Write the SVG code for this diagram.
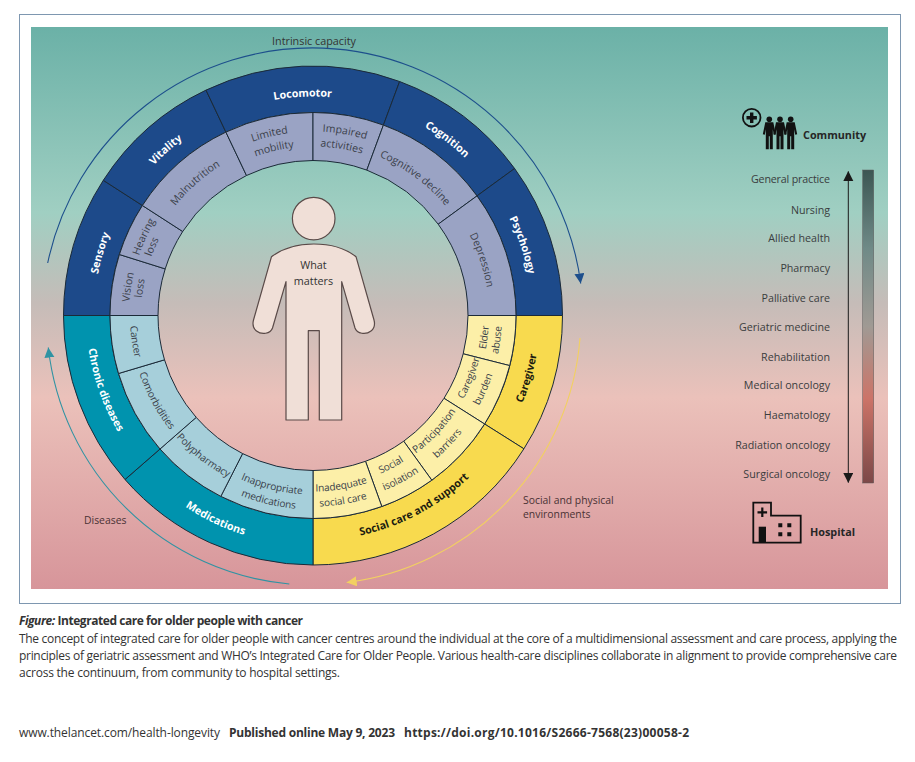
<svg xmlns="http://www.w3.org/2000/svg" xmlns:xlink="http://www.w3.org/1999/xlink" width="915" height="762" viewBox="0 0 915 762">
<style>
text{font-family:"Open Sans","Noto Sans","Liberation Sans",sans-serif;font-size:10.8px;fill:#333}
.seg{stroke:#1b2a38;stroke-width:1;stroke-linejoin:round}
.blue{fill:#1d4a8a}.lav{fill:#9aa3c4}.teal{fill:#0093ae}.ltb{fill:#a6cfda}.yel{fill:#f8da4e}.lty{fill:#fcefa8}
.o{font-size:10.7px;font-weight:700;fill:#fff;text-anchor:middle}
.od{font-size:10.7px;font-weight:700;fill:#1c1c10;text-anchor:middle}
.i{font-size:10.5px;fill:#3a3f4a;text-anchor:middle}
.n{font-size:10.1px;fill:#3a3f4a;text-anchor:middle;letter-spacing:-.1px}
.d{font-size:10.7px;text-anchor:end;fill:#3a3d3e}
.b{font-weight:700;fill:#262626}
.c{font-size:12px;fill:#333}
.env{font-size:10.4px;fill:#4a3235}
.arc{fill:none;stroke-width:1.1}
</style>
<defs>
<linearGradient id="bg" x1="0" y1="0" x2="0" y2="1">
<stop offset="0" stop-color="#6bb1a7"/><stop offset=".33" stop-color="#a0cfc2"/><stop offset=".49" stop-color="#c5bcb8"/><stop offset=".66" stop-color="#ebc1ba"/><stop offset="1" stop-color="#d7959a"/>
</linearGradient>
<linearGradient id="bar" x1="0" y1="0" x2="0" y2="1">
<stop offset="0" stop-color="#3c5653"/><stop offset=".25" stop-color="#6f8a87"/><stop offset=".5" stop-color="#a09a94"/><stop offset=".73" stop-color="#cc7468"/><stop offset="1" stop-color="#7c4848"/>
</linearGradient>
<marker id="hb" markerUnits="userSpaceOnUse" markerWidth="12" markerHeight="12" refX="10" refY="5" orient="auto"><path d="M0,0L10,5L0,10Z" fill="#1d4f8c"/></marker>
<marker id="ht" markerUnits="userSpaceOnUse" markerWidth="12" markerHeight="12" refX="10" refY="5" orient="auto"><path d="M0,0L10,5L0,10Z" fill="#2f93a3"/></marker>
<marker id="hy" markerUnits="userSpaceOnUse" markerWidth="12" markerHeight="12" refX="10" refY="5" orient="auto"><path d="M0,0L10,5L0,10Z" fill="#f2d060"/></marker>
<marker id="hk" markerUnits="userSpaceOnUse" markerWidth="12" markerHeight="12" refX="9.5" refY="5" orient="auto-start-reverse"><path d="M0,0L10,5L0,10Z" fill="#1a1a1a"/></marker>
<path id="w219" d="M313,534.5A219,219 0 1 1 313,96.5A219,219 0 1 1 313,534.5"/>
<path id="w184" d="M313,499.5A184,184 0 1 1 313,131.5A184,184 0 1 1 313,499.5"/>
<path id="w169" d="M313,484.5A169,169 0 1 1 313,146.5A169,169 0 1 1 313,484.5"/>
<path id="w176" d="M313,491.5A176,176 0 1 1 313,139.5A176,176 0 1 1 313,491.5"/>
<path id="w172" d="M313,487.5A172,172 0 1 1 313,143.5A172,172 0 1 1 313,487.5"/>
<path id="c227" d="M313,88.5A227,227 0 1 0 313,542.5A227,227 0 1 0 313,88.5"/>
<path id="c225" d="M313,90.5A225,225 0 1 0 313,540.5A225,225 0 1 0 313,90.5"/>
<path id="c230" d="M313,85.5A230,230 0 1 0 313,545.5A230,230 0 1 0 313,85.5"/>
<path id="c172" d="M313,143.5A172,172 0 1 0 313,487.5A172,172 0 1 0 313,143.5"/>
<path id="c176" d="M313,139.5A176,176 0 1 0 313,491.5A176,176 0 1 0 313,139.5"/>
<path id="c179" d="M313,136.5A179,179 0 1 0 313,494.5A179,179 0 1 0 313,136.5"/>
<path id="c183" d="M313,132.5A183,183 0 1 0 313,498.5A183,183 0 1 0 313,132.5"/>
<path id="c189" d="M313,126.5A189,189 0 1 0 313,504.5A189,189 0 1 0 313,126.5"/>
<path id="c191" d="M313,124.5A191,191 0 1 0 313,506.5A191,191 0 1 0 313,124.5"/>
<path id="c194" d="M313,121.5A194,194 0 1 0 313,509.5A194,194 0 1 0 313,121.5"/>
<g id="pers"><circle r="2.8" cx="0" cy="0"/><path d="M-4,3L4,3L6.5,15L4.5,15.5L3.5,10L3.5,30L.5,30L.5,17L-.5,17L-.5,30L-3.5,30L-3.5,10L-4.5,15.5L-6.5,15Z"/></g>
</defs>

<rect id="frame" x="19.5" y="14.5" width="881" height="589" fill="#fff" stroke="#7e97b0" stroke-width="1"/>
<rect id="background" x="31" y="27" width="857" height="562" fill="url(#bg)"/>

<g id="connectors">
<path id="arc-intrinsic" class="arc" stroke="#1d4f8c" marker-end="url(#hb)" d="M47.7,263A270.5,270.5 0 0 1 580.7,283.5"/>
<path id="arc-diseases" class="arc" stroke="#2f93a3" marker-end="url(#ht)" d="M289.3,584A267,267 0 0 1 48.3,347.5"/>
<path id="arc-social" class="arc" stroke="#f2d060" marker-end="url(#hy)" d="M580,338A267,267 0 0 1 346.7,582.5"/>
<path id="arrow-continuum" fill="none" stroke="#1a1a1a" stroke-width="1" marker-start="url(#hk)" marker-end="url(#hk)" d="M848.3,171.5V482.5"/>
</g>

<g id="node-sensory"><path class="seg blue" d="M63.5,315.5A249.5,249.5 0 0 1 103.3,180.3L142.4,205.5A203,203 0 0 0 110,315.5Z"/><text class="o"><textPath href="#w219" startOffset="29.56%">Sensory</textPath></text></g>
<g id="node-vitality"><path class="seg blue" d="M103.3,180.3A249.5,249.5 0 0 1 206,90.1L225.9,132.1A203,203 0 0 0 142.4,205.5Z"/><text class="o"><textPath href="#w219" startOffset="38.44%">Vitality</textPath></text></g>
<g id="node-locomotor"><path class="seg blue" d="M206,90.1A249.5,249.5 0 0 1 399.6,81.5L383.4,125.1A203,203 0 0 0 225.9,132.1Z"/><text class="o"><textPath href="#w219" startOffset="49.25%">Locomotor</textPath></text></g>
<g id="node-cognition"><path class="seg blue" d="M399.6,81.5A249.5,249.5 0 0 1 514.6,168.5L477,195.9A203,203 0 0 0 383.4,125.1Z"/><text class="o"><textPath href="#w219" startOffset="60.36%">Cognition</textPath></text></g>
<g id="node-psychology"><path class="seg blue" d="M514.6,168.5A249.5,249.5 0 0 1 562.5,315.5L516,315.5A203,203 0 0 0 477,195.9Z"/><text class="o"><textPath href="#w219" startOffset="69.83%">Psychology</textPath></text></g>
<g id="node-caregiver"><path class="seg yel" d="M562.5,315.5A249.5,249.5 0 0 1 523.9,448.8L484.6,424A203,203 0 0 0 516,315.5Z"/><text class="od"><textPath href="#c227" startOffset="70.47%">Caregiver</textPath></text></g>
<g id="node-social-care"><path class="seg yel" d="M523.9,448.8A249.5,249.5 0 0 1 313,565L313,518.5A203,203 0 0 0 484.6,424Z"/><text class="od"><textPath href="#c225" startOffset="57.78%">Social care and support</textPath></text></g>
<g id="node-medications"><path class="seg teal" d="M313,565A249.5,249.5 0 0 1 125,479.5L160,449A203,203 0 0 0 313,518.5Z"/><text class="o"><textPath href="#c230" startOffset="42.89%">Medications</textPath></text></g>
<g id="node-chronic"><path class="seg teal" d="M125,479.5A249.5,249.5 0 0 1 63.5,315.5L110,315.5A203,203 0 0 0 160,449Z"/><text class="o"><textPath href="#c227" startOffset="30.47%">Chronic diseases</textPath></text></g>

<g id="node-vision-loss"><path class="seg lav" d="M110,315.5A203,203 0 0 1 119.4,254.5L165.2,268.9A155,155 0 0 0 158,315.5Z"/><text class="i"><textPath href="#w184" startOffset="27.44%">Vision</textPath></text><text class="i"><textPath href="#w172" startOffset="27.5%">loss</textPath></text></g>
<g id="node-hearing-loss"><path class="seg lav" d="M119.4,254.5A203,203 0 0 1 142.4,205.5L182.7,231.5A155,155 0 0 0 165.2,268.9Z"/><text class="i"><textPath href="#w184" startOffset="31.94%">Hearing</textPath></text><text class="i"><textPath href="#w172" startOffset="31.44%">loss</textPath></text></g>
<g id="node-malnutrition"><path class="seg lav" d="M142.4,205.5A203,203 0 0 1 225.9,132.1L246.5,175.5A155,155 0 0 0 182.7,231.5Z"/><text class="i"><textPath href="#w176" startOffset="38.44%">Malnutrition</textPath></text></g>
<g id="node-limited-mobility"><path class="seg lav" d="M225.9,132.1A203,203 0 0 1 313,112.5L313,160.5A155,155 0 0 0 246.5,175.5Z"/><text class="i"><textPath href="#w184" startOffset="46.25%">Limited</textPath></text><text class="i"><textPath href="#w169" startOffset="46.33%">mobility</textPath></text></g>
<g id="node-impaired-activities"><path class="seg lav" d="M313,112.5A203,203 0 0 1 383.4,125.1L366.8,170.1A155,155 0 0 0 313,160.5Z"/><text class="i"><textPath href="#w184" startOffset="52.75%">Impaired</textPath></text><text class="i"><textPath href="#w169" startOffset="52.68%">activities</textPath></text></g>
<g id="node-cognitive-decline"><path class="seg lav" d="M383.4,125.1A203,203 0 0 1 477,195.9L438.2,224.2A155,155 0 0 0 366.8,170.1Z"/><text class="i"><textPath href="#w172" startOffset="60.17%">Cognitive decline</textPath></text></g>
<g id="node-depression"><path class="seg lav" d="M477,195.9A203,203 0 0 1 516,315.5L468,315.5A155,155 0 0 0 438.2,224.2Z"/><text class="i"><textPath href="#w176" startOffset="69.94%">Depression</textPath></text></g>

<g id="node-elder-abuse"><path class="seg lty" d="M516,315.5A203,203 0 0 1 509.7,365.6L463.2,353.8A155,155 0 0 0 468,315.5Z"/><text class="n"><textPath href="#c176" startOffset="72.97%">Elder</textPath></text><text class="n"><textPath href="#c189" startOffset="72.89%">abuse</textPath></text></g>
<g id="node-caregiver-burden"><path class="seg lty" d="M509.7,365.6A203,203 0 0 1 484.6,424L444,398.3A155,155 0 0 0 463.2,353.8Z"/><text class="n"><textPath href="#c172" startOffset="68.94%">Caregiver</textPath></text><text class="n"><textPath href="#c189" startOffset="68.5%">burden</textPath></text></g>
<g id="node-participation"><path class="seg lty" d="M484.6,424A203,203 0 0 1 431.8,480.2L403.7,441.2A155,155 0 0 0 444,398.3Z"/><text class="n"><textPath href="#c172" startOffset="62.89%">Participation</textPath></text><text class="n"><textPath href="#c189" startOffset="62.89%">barriers</textPath></text></g>
<g id="node-social-isolation"><path class="seg lty" d="M431.8,480.2A203,203 0 0 1 381.8,506.5L365.5,461.3A155,155 0 0 0 403.7,441.2Z"/><text class="n"><textPath href="#c172" startOffset="57.64%">Social</textPath></text><text class="n"><textPath href="#c189" startOffset="57.81%">isolation</textPath></text></g>
<g id="node-inadequate"><path class="seg lty" d="M381.8,506.5A203,203 0 0 1 313,518.5L313,470.5A155,155 0 0 0 365.5,461.3Z"/><text class="n"><textPath href="#c176" startOffset="52.61%">Inadequate</textPath></text><text class="n"><textPath href="#c191" startOffset="52.56%">social care</textPath></text></g>
<g id="node-inappropriate"><path class="seg ltb" d="M313,518.5A203,203 0 0 1 220.8,496.4L242.6,453.6A155,155 0 0 0 313,470.5Z"/><text class="n"><textPath href="#c179" startOffset="46.22%">Inappropriate</textPath></text><text class="n"><textPath href="#c194" startOffset="46.25%">medications</textPath></text></g>
<g id="node-polypharmacy"><path class="seg ltb" d="M220.8,496.4A203,203 0 0 1 160,449L196.2,417.4A155,155 0 0 0 242.6,453.6Z"/><text class="n"><textPath href="#c183" startOffset="39.44%">Polypharmacy</textPath></text></g>
<g id="node-comorbidities"><path class="seg ltb" d="M160,449A203,203 0 0 1 118.5,373.5L164.5,359.8A155,155 0 0 0 196.2,417.4Z"/><text class="n"><textPath href="#c183" startOffset="32.94%">Comorbidities</textPath></text></g>
<g id="node-cancer"><path class="seg ltb" d="M118.5,373.5A203,203 0 0 1 110,315.5L158,315.5A155,155 0 0 0 164.5,359.8Z"/><text class="n"><textPath href="#c183" startOffset="27.31%">Cancer</textPath></text></g>

<g id="node-person" fill="#f0dfd7" stroke="#5a4a48" stroke-width="1.2">
<circle cx="313.7" cy="218.6" r="21.3"/>
<path stroke-linejoin="round" d="M286,281.7V420H308.3V330.7H319.3V420H341.7V281.7L355,328C357,334 366,335 371,331C375,328 375,324 374,320L356,256.7C345,248 330,244 313.8,244C298,244 283,248 271.5,256.7L253.5,320C252.5,324 252.5,328 256.5,331C261.5,335 270.5,334 272.5,328Z"/>
<text x="313.5" y="269" text-anchor="middle" stroke="none">What</text>
<text x="313.5" y="285" text-anchor="middle" stroke="none">matters</text>
</g>

<text id="label-intrinsic" x="272" y="45">Intrinsic capacity</text>
<text id="label-diseases" class="env" x="84" y="524">Diseases</text>
<text id="label-social" class="env"><tspan x="523" y="504">Social and physical</tspan><tspan x="523" y="518">environments</tspan></text>

<g id="node-community">
<circle cx="751.7" cy="117.7" r="8.8" fill="none" stroke="#111" stroke-width="1.8"/>
<path d="M750,112.5h3.4v3.5h3.5v3.4h-3.5v3.5h-3.4v-3.5h-3.5v-3.4h3.5Z" fill="#111"/>
<use href="#pers" x="769.3" y="119.3" fill="#111"/><use href="#pers" x="780" y="119.3" fill="#111"/><use href="#pers" x="790.7" y="119.3" fill="#111"/>
<text class="b" x="803" y="139">Community</text>
</g>

<g id="node-hospital">
<path d="M753.3,542.7V502.7H771V515.7H800.7V542.7Z" fill="none" stroke="#111" stroke-width="1.8"/>
<path d="M761.2,507.5h2.2v3.7h3.7v2.2h-3.7v3.7h-2.2v-3.7h-3.7v-2.2h3.7Z" fill="#111"/>
<rect x="758.7" y="526.7" width="7.3" height="16" fill="#111"/>
<path d="M778.3,523.3h4v4h-4ZM787.3,523.3h4v4h-4ZM778.3,532.3h4v4h-4ZM787.3,532.3h4v4h-4Z" fill="#111"/>
<text class="b" x="810" y="536">Hospital</text>
</g>

<rect id="bar-continuum" x="862.7" y="170" width="11" height="313" fill="url(#bar)" stroke="#5b5b5b" stroke-width=".5"/>
<g id="disciplines">
<text class="d" x="830" y="183" textLength="79">General practice</text>
<text class="d" x="830" y="214">Nursing</text>
<text class="d" x="830" y="242">Allied health</text>
<text class="d" x="830" y="272">Pharmacy</text>
<text class="d" x="830" y="302">Palliative care</text>
<text class="d" x="830" y="331">Geriatric medicine</text>
<text class="d" x="830" y="361">Rehabilitation</text>
<text class="d" x="830" y="389">Medical oncology</text>
<text class="d" x="830" y="419">Haematology</text>
<text class="d" x="830" y="449">Radiation oncology</text>
<text class="d" x="830" y="478">Surgical oncology</text>
</g>

<g id="caption">
<text class="c" x="19" y="625" textLength="284" lengthAdjust="spacing"><tspan font-style="italic" font-weight="700">Figure:</tspan><tspan font-weight="700"> Integrated care for older people with cancer</tspan></text>
<text class="c" x="19" y="642.7" textLength="878" lengthAdjust="spacing">The concept of integrated care for older people with cancer centres around the individual at the core of a multidimensional assessment and care process, applying the</text>
<text class="c" x="19" y="660" textLength="878" lengthAdjust="spacing">principles of geriatric assessment and WHO’s Integrated Care for Older People. Various health-care disciplines collaborate in alignment to provide comprehensive care</text>
<text class="c" x="19" y="677.3" textLength="321" lengthAdjust="spacing">across the continuum, from community to hospital settings.</text>
</g>
<g id="footer">
<text class="c" x="19" y="736.7" textLength="201" lengthAdjust="spacing">www.thelancet.com/health-longevity</text>
<text class="c" x="229" y="736.7" font-weight="700" textLength="166" lengthAdjust="spacing">Published online May 9, 2023</text>
<text class="c" x="404" y="736.7" font-weight="700" textLength="285" lengthAdjust="spacing">https://doi.org/10.1016/S2666-7568(23)00058-2</text>
</g>
</svg>
